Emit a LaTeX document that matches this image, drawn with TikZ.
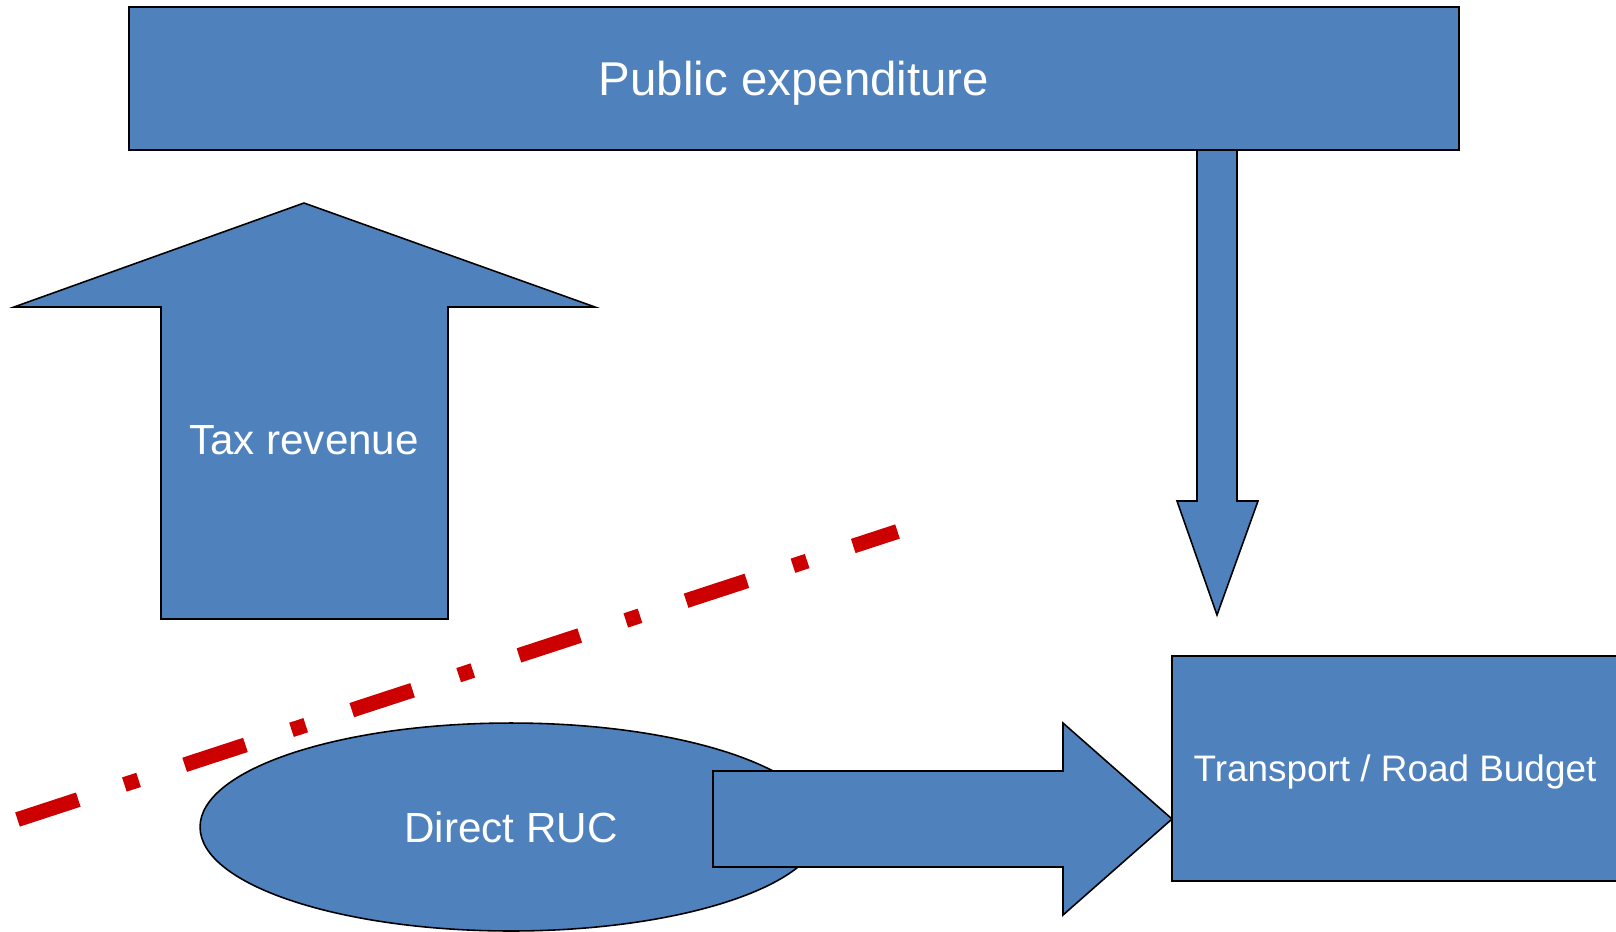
\documentclass[tikz,border=0pt]{standalone}
\usepackage{fontspec}
\setmainfont{Liberation Sans}
\usepackage{tikz}
\usetikzlibrary{shapes.geometric}

\definecolor{boxblue}{RGB}{79,129,189}
\definecolor{cutred}{RGB}{204,0,0}

\begin{document}
\begin{tikzpicture}[x=0.02cm, y=-0.02cm]
	\tikzset{block/.style = {draw=black, fill=boxblue, line width=0.9pt}}
	\tikzset{blocktext/.style = {text=white, text depth=0pt, font=\fontsize{#1}{#1}\selectfont}}
	\tikzset{cutline/.style = {draw=cutred, line width=8.5pt, line cap=butt,
		dash pattern=on 36.4pt off 27.6pt on 8.5pt off 27.6pt}}
	\useasboundingbox (0, 0) rectangle (1616, 931);
	% tax revenue arrow
	\draw[block] (161, 619) -- (161, 307) -- (14, 307) -- (304, 203) -- (595, 307) -- (448, 307) -- (448, 619) -- cycle;
	\node[blocktext=24pt, text height=17.2pt] (tax) at (304, 439) {Tax revenue};
	% direct RUC
	\node[block, ellipse, minimum width=12.44cm, minimum height=4.16cm, inner sep=0pt,
		blocktext=24pt, text height=17.2pt] (ruc) at (511, 827) {Direct RUC};
	\coordinate (cut1) at (17.5, 819.5);
	\coordinate (cut2) at (897.5, 531.5);
	\draw[cutline] (cut1) -- (cut2);
	\draw[block] (713, 771) -- (1063, 771) -- (1063, 723) -- (1172, 819) -- (1063, 915) -- (1063, 867) -- (713, 867) -- cycle;
	% budget
	\node[block, minimum width=8.92cm, minimum height=4.5cm, inner sep=0pt,
		blocktext=21pt, text height=15pt] (budget) at (1395, 768.5) {Transport / Road Budget};
	% public expenditure
	\draw[block] (1197, 150) -- (1237, 150) -- (1237, 501) -- (1258, 501) -- (1217, 615) -- (1177, 501) -- (1197, 501) -- cycle;
	\node[block, minimum width=26.6cm, minimum height=2.87cm, inner sep=0pt,
		blocktext=27pt, text height=19.3pt] (pub) at (794, 78.5) {Public expenditure};
\end{tikzpicture}
\end{document}
